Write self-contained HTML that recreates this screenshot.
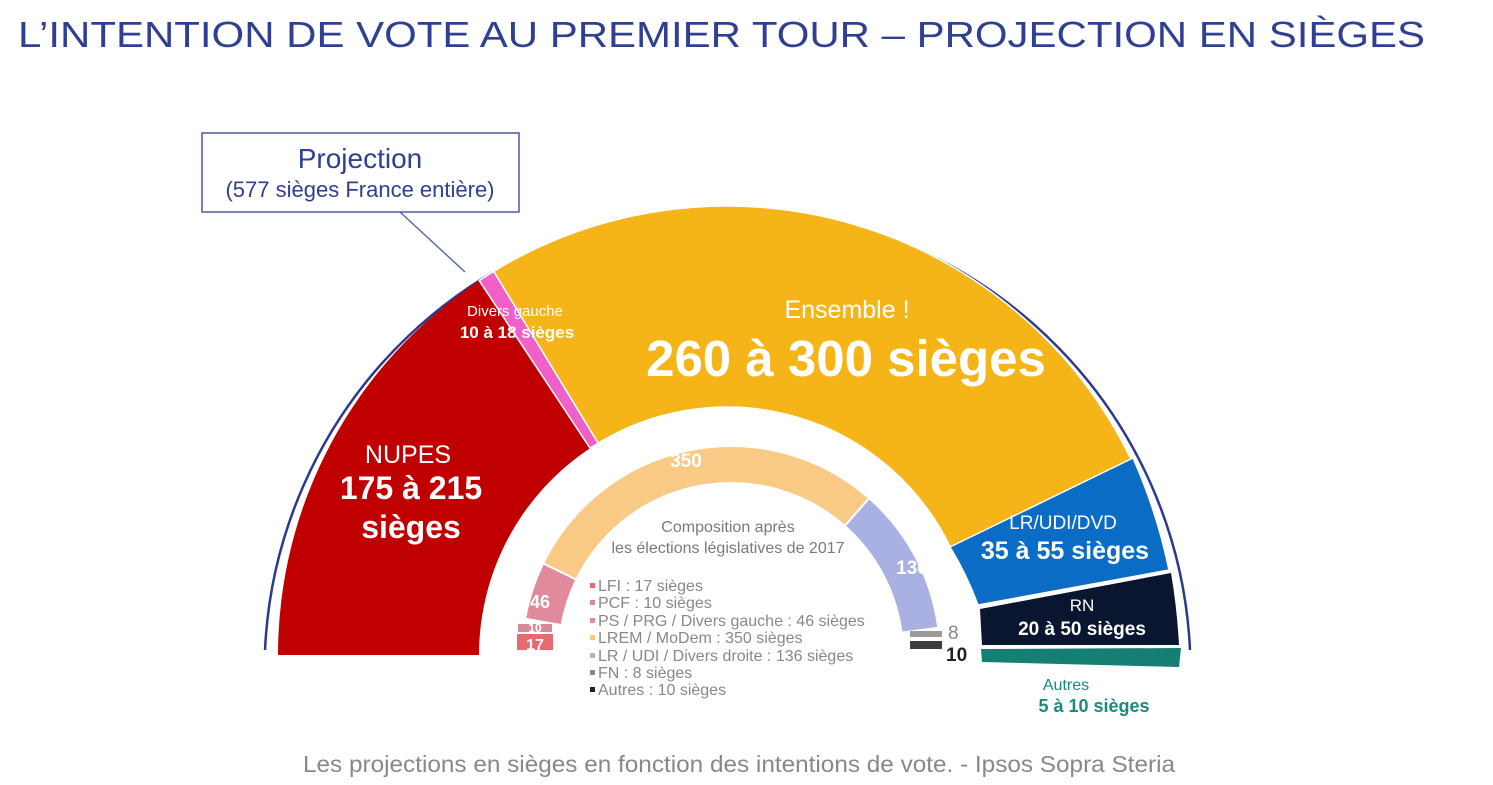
<!DOCTYPE html>
<html><head><meta charset="utf-8"><style>
body{margin:0;background:#fff;}
svg{display:block;font-family:"Liberation Sans",Arial,sans-serif;}
</style></head><body>
<svg width="1493" height="785" viewBox="0 0 1493 785" xmlns="http://www.w3.org/2000/svg">
<text x="18" y="47" font-size="36" fill="#2f3f93" textLength="1407" lengthAdjust="spacingAndGlyphs">L’INTENTION DE VOTE AU PREMIER TOUR – PROJECTION EN SIÈGES</text>

<path d="M265,650 A463,463 0 0 1 1190,650" fill="none" stroke="#2b3990" stroke-width="2.5"/>

<line x1="400" y1="212" x2="465" y2="272" stroke="#5a6bb0" stroke-width="1.5"/>
<rect x="202" y="133" width="317" height="79" fill="#fff" stroke="#4a5aa5" stroke-width="1.5"/>
<text x="360" y="168" font-size="28" fill="#2f3f93" text-anchor="middle">Projection</text>
<text x="360" y="197" font-size="22" fill="#2f3f93" text-anchor="middle">(577 sièges France entière)</text>

<path d="M278,655 A449,449 0 0 1 479.2,280.6 L590.1,448.2 A248,248 0 0 0 479,655 Z" fill="#c00000"/>
<path d="M479.2,280.6 A449,449 0 0 1 493.7,271.3 L598.2,443.1 A248,248 0 0 0 590.1,448.2 Z" fill="#f060c8" stroke="#fff" stroke-width="1.5"/>
<path d="M493.7,271.3 A449,449 0 0 1 1131.2,459.6 L950.3,547.1 A248,248 0 0 0 598.2,443.1 Z" fill="#f5b418" stroke="#fff" stroke-width="1.5"/>
<path d="M950,547 L1133,458 Q1157,512 1169,570 L978,605 Q967,575 950,547 Z" fill="#0a6cc4" stroke="#fff" stroke-width="1.5"/>
<path d="M980,609 L1171,573 Q1177,608 1179,645 L982,645 Z" fill="#0a1530"/>
<path d="M981,649 L1181,648 L1179,667 L982,662 Z" fill="#167f74"/>

<path d="M525.2,618.7 A209,209 0 0 1 543.2,563.4 L576.4,579.6 A172,172 0 0 0 561.6,625.1 Z" fill="#e08a9c" stroke="#fff" stroke-width="2"/>
<path d="M543.2,563.4 A209,209 0 0 1 869.2,498.2 L844.7,526 A172,172 0 0 0 576.4,579.6 Z" fill="#f8ca86" stroke="#fff" stroke-width="2"/>
<path d="M869.2,498.2 A209,209 0 0 1 938.2,627.7 L901.5,632.6 A172,172 0 0 0 844.7,526 Z" fill="#a9b1e2" stroke="#fff" stroke-width="2"/>
<rect x="518" y="624" width="34" height="8" fill="#d98a98"/>
<rect x="517" y="634" width="36" height="16" fill="#e86a70"/>
<rect x="910" y="631" width="32" height="6" fill="#9a9a9a"/>
<rect x="910" y="641" width="32" height="8" fill="#3d3d3d"/>

<g fill="#fff" font-weight="bold" text-anchor="middle">
<text x="686" y="467" font-size="19">350</text>
<text x="912" y="574" font-size="19">136</text>
<text x="540" y="608" font-size="18">46</text>
<text x="535" y="632" font-size="12">10</text>
<text x="535" y="650" font-size="16">17</text>
</g>
<text x="948" y="639" font-size="19" fill="#888">8</text>
<text x="946" y="661" font-size="19" fill="#222" font-weight="bold">10</text>

<g fill="#7a7a7a" font-size="16" text-anchor="middle">
<text x="728" y="532">Composition après</text>
<text x="728" y="553">les élections législatives de 2017</text>
</g>
<g font-size="16" fill="#888">
<text x="598" y="591">LFI : 17 sièges</text>
<text x="598" y="608">PCF : 10 sièges</text>
<text x="598" y="626">PS / PRG / Divers gauche : 46 sièges</text>
<text x="598" y="643">LREM / MoDem : 350 sièges</text>
<text x="598" y="661">LR / UDI / Divers droite : 136 sièges</text>
<text x="598" y="678">FN : 8 sièges</text>
<text x="598" y="695">Autres : 10 sièges</text>
</g>
<rect x="590" y="583" width="5" height="5" fill="#e86a70"/>
<rect x="590" y="600" width="5" height="5" fill="#d98a98"/>
<rect x="590" y="618" width="5" height="5" fill="#e08a9c"/>
<rect x="590" y="635" width="5" height="5" fill="#f8ca86"/>
<rect x="590" y="653" width="5" height="5" fill="#a9b1e2"/>
<rect x="590" y="670" width="5" height="5" fill="#888"/>
<rect x="590" y="687" width="5" height="5" fill="#222"/>

<g fill="#fff" text-anchor="middle">
<text x="515" y="316" font-size="15">Divers gauche</text>
<text x="517" y="338" font-size="17" font-weight="bold">10 à 18 sièges</text>
<text x="847" y="318" font-size="25">Ensemble !</text>
<text x="846" y="376" font-size="51" font-weight="bold">260 à 300 sièges</text>
<text x="408" y="463" font-size="25">NUPES</text>
<text x="411" y="499" font-size="32" font-weight="bold">175 à 215</text>
<text x="411" y="538" font-size="32" font-weight="bold">sièges</text>
<text x="1063" y="529" font-size="19">LR/UDI/DVD</text>
<text x="1065" y="559" font-size="25" font-weight="bold">35 à 55 sièges</text>
<text x="1082" y="611" font-size="17">RN</text>
<text x="1082" y="635" font-size="19" font-weight="bold">20 à 50 sièges</text>
</g>
<text x="1066" y="690" font-size="16" fill="#1a8a7e" text-anchor="middle">Autres</text>
<text x="1094" y="712" font-size="18" fill="#1a8a7e" font-weight="bold" text-anchor="middle">5 à 10 sièges</text>

<text x="303" y="772" font-size="23" fill="#888" textLength="872" lengthAdjust="spacingAndGlyphs">Les projections en sièges en fonction des intentions de vote. - Ipsos Sopra Steria</text>
</svg>
</body></html>
